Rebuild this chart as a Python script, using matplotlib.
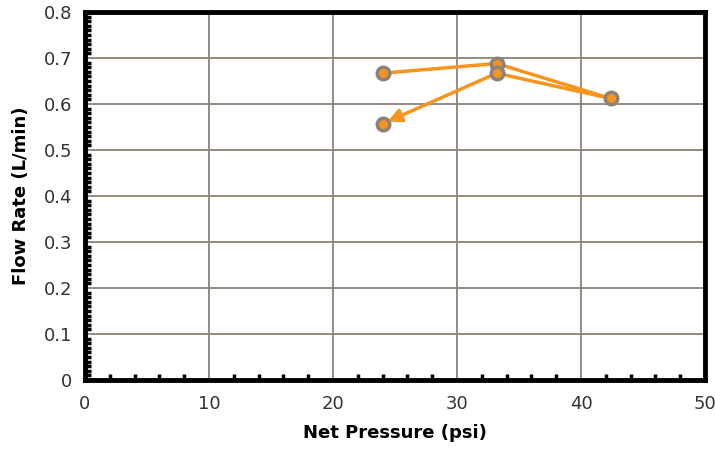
import numpy as np
import matplotlib.pyplot as plt
from matplotlib.ticker import MultipleLocator

# data (in drawing order)
net_pressure = [24.0, 33.2, 42.4, 33.2, 24.0]
flow_rate = [0.667, 0.688, 0.612, 0.667, 0.557]

line_color = "#F7941D"
edge_color = "#8C8279"
grid_color = "#8C8479"

plt.rcParams['font.family'] = ['DejaVu Sans']

fig = plt.figure(figsize=(7.15, 4.55), dpi=100)
ax = fig.add_axes([85 / 715, 75 / 455, 620 / 715, 368 / 455])

# lines between points, last segment with an arrow head
for i in range(len(net_pressure) - 2):
    ax.plot(net_pressure[i:i + 2], flow_rate[i:i + 2], color=line_color, lw=2.5, zorder=3,
            solid_capstyle='round')
ax.annotate("", xy=(net_pressure[-1], flow_rate[-1]), xytext=(net_pressure[-2], flow_rate[-2]),
            arrowprops=dict(arrowstyle="-|>,head_length=0.8,head_width=0.4", color=line_color,
                            lw=2.5, shrinkA=0, shrinkB=4), zorder=3)
ax.plot(net_pressure, flow_rate, ls='none', marker='o', ms=9, mfc=line_color,
        mec=edge_color, mew=2.5, zorder=4)

ax.set_xlim(0, 50)
ax.set_ylim(0, 0.8)
ax.xaxis.set_major_locator(MultipleLocator(10))
ax.xaxis.set_minor_locator(MultipleLocator(2))
ax.yaxis.set_minor_locator(MultipleLocator(0.01))
ax.set_yticks(np.arange(0, 0.81, 0.1))
ax.set_yticklabels(["0", "0.1", "0.2", "0.3", "0.4", "0.5", "0.6", "0.7", "0.8"])

ax.grid(True, which='major', color=grid_color, lw=1.3, zorder=0)
ax.tick_params(which='major', direction='in', length=0, labelsize=13, pad=9, colors='#333333')
ax.tick_params(which='minor', direction='in', length=4, width=2.5, color='black')
ax.tick_params(axis='x', which='major', pad=11)

for s in ax.spines.values():
    s.set_linewidth(3.5)
    s.set_color('black')

ax.set_xlabel("Net Pressure (psi)", fontsize=13, fontweight='bold', labelpad=8)
ax.set_ylabel("Flow Rate (L/min)", fontsize=13, fontweight='bold', labelpad=10)

fig.savefig("out.png", dpi=100)
